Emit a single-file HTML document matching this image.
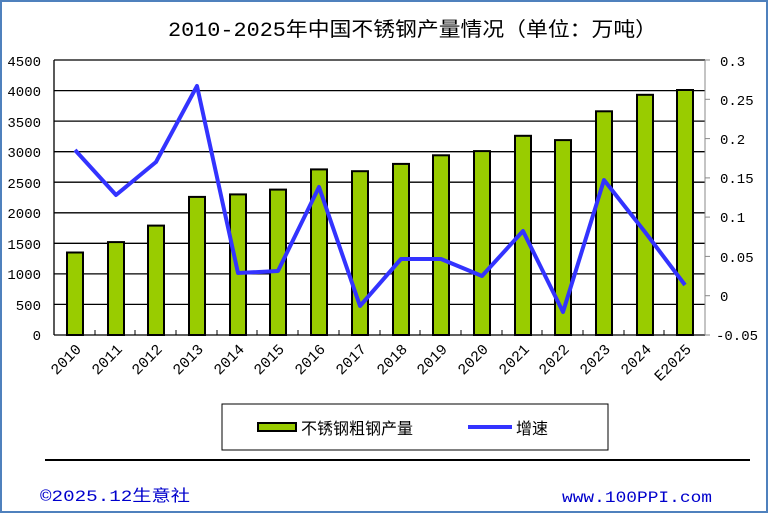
<!DOCTYPE html>
<html><head><meta charset="utf-8"><style>
html,body{margin:0;padding:0;background:#fff;}
svg{display:block;}
text{font-family:"Liberation Mono","Noto Sans CJK SC",monospace;}
</style></head><body>
<svg width="770" height="523" viewBox="0 0 770 523" xmlns="http://www.w3.org/2000/svg">
<rect x="1" y="1" width="766" height="511" fill="#fff" stroke="#4f81bd" stroke-width="2"/>
<text x="168" y="36" font-size="20" textLength="489" lengthAdjust="spacingAndGlyphs" font-family="Liberation Mono, Noto Serif CJK SC, serif">2010-2025年中国不锈钢产量情况（单位：万吨）</text>
<g stroke="#000" stroke-width="1.3">
<line x1="54" y1="60" x2="705" y2="60"/><line x1="54" y1="90.6" x2="705" y2="90.6"/><line x1="54" y1="121.1" x2="705" y2="121.1"/><line x1="54" y1="151.7" x2="705" y2="151.7"/><line x1="54" y1="182.2" x2="705" y2="182.2"/><line x1="54" y1="212.8" x2="705" y2="212.8"/><line x1="54" y1="243.3" x2="705" y2="243.3"/><line x1="54" y1="273.9" x2="705" y2="273.9"/><line x1="54" y1="304.4" x2="705" y2="304.4"/>
<line x1="54" y1="60" x2="54" y2="335"/><line x1="54" y1="335" x2="705" y2="335"/>
</g>
<line x1="705" y1="60" x2="705" y2="335" stroke="#888" stroke-width="1"/>
<g stroke="#888" stroke-width="1">
<line x1="705" y1="60" x2="710" y2="60"/><line x1="705" y1="99.3" x2="710" y2="99.3"/><line x1="705" y1="138.6" x2="710" y2="138.6"/><line x1="705" y1="177.9" x2="710" y2="177.9"/><line x1="705" y1="217.1" x2="710" y2="217.1"/><line x1="705" y1="256.4" x2="710" y2="256.4"/><line x1="705" y1="295.7" x2="710" y2="295.7"/><line x1="705" y1="335" x2="710" y2="335"/>
</g>
<g stroke="#000" stroke-width="1">
<line x1="95" y1="335" x2="95" y2="330"/><line x1="135" y1="335" x2="135" y2="330"/><line x1="176" y1="335" x2="176" y2="330"/><line x1="217" y1="335" x2="217" y2="330"/><line x1="257" y1="335" x2="257" y2="330"/><line x1="298" y1="335" x2="298" y2="330"/><line x1="339" y1="335" x2="339" y2="330"/><line x1="380" y1="335" x2="380" y2="330"/><line x1="420" y1="335" x2="420" y2="330"/><line x1="461" y1="335" x2="461" y2="330"/><line x1="502" y1="335" x2="502" y2="330"/><line x1="542" y1="335" x2="542" y2="330"/><line x1="583" y1="335" x2="583" y2="330"/><line x1="624" y1="335" x2="624" y2="330"/><line x1="664" y1="335" x2="664" y2="330"/>
</g>
<g font-size="14" text-anchor="end">
<text x="41" y="66">4500</text><text x="41" y="96">4000</text><text x="41" y="127">3500</text><text x="41" y="157">3000</text><text x="41" y="188">2500</text><text x="41" y="218">2000</text><text x="41" y="249">1500</text><text x="41" y="279">1000</text><text x="41" y="310">500</text><text x="41" y="340">0</text>
</g>
<g font-size="14">
<text x="720" y="66">0.3</text><text x="720" y="105">0.25</text><text x="720" y="144">0.2</text><text x="720" y="183">0.15</text><text x="720" y="222">0.1</text><text x="720" y="262">0.05</text><text x="720" y="301">0</text><text x="716" y="340">-0.05</text>
</g>
<g fill="#99cc00" stroke="#000" stroke-width="2">
<rect x="67" y="252.5" width="16" height="82.5"/>
<rect x="108" y="242.1" width="16" height="92.9"/>
<rect x="148" y="225.6" width="16" height="109.4"/>
<rect x="189" y="196.9" width="16" height="138.1"/>
<rect x="230" y="194.4" width="16" height="140.6"/>
<rect x="270" y="189.6" width="16" height="145.4"/>
<rect x="311" y="169.4" width="16" height="165.6"/>
<rect x="352" y="171.2" width="16" height="163.8"/>
<rect x="393" y="163.9" width="16" height="171.1"/>
<rect x="433" y="155.3" width="16" height="179.7"/>
<rect x="474" y="151.1" width="16" height="183.9"/>
<rect x="515" y="135.8" width="16" height="199.2"/>
<rect x="555" y="140.1" width="16" height="194.9"/>
<rect x="596" y="111.3" width="16" height="223.7"/>
<rect x="637" y="94.8" width="16" height="240.2"/>
<rect x="677" y="90" width="16" height="245"/>
</g>
<polyline fill="none" stroke="#3333ff" stroke-width="4" stroke-linejoin="round" points="75,150 116,195 156,162 197,86 238,273 278,271 319,187 360,306 401,259 441,259 482,276 523,231 563,312 604,180 645,232 685,285"/>
<g font-size="15">
<text transform="translate(82,350) rotate(-45)" text-anchor="end">2010</text>
<text transform="translate(123,350) rotate(-45)" text-anchor="end">2011</text>
<text transform="translate(163,350) rotate(-45)" text-anchor="end">2012</text>
<text transform="translate(204,350) rotate(-45)" text-anchor="end">2013</text>
<text transform="translate(245,350) rotate(-45)" text-anchor="end">2014</text>
<text transform="translate(285,350) rotate(-45)" text-anchor="end">2015</text>
<text transform="translate(326,350) rotate(-45)" text-anchor="end">2016</text>
<text transform="translate(367,350) rotate(-45)" text-anchor="end">2017</text>
<text transform="translate(408,350) rotate(-45)" text-anchor="end">2018</text>
<text transform="translate(448,350) rotate(-45)" text-anchor="end">2019</text>
<text transform="translate(489,350) rotate(-45)" text-anchor="end">2020</text>
<text transform="translate(530,350) rotate(-45)" text-anchor="end">2021</text>
<text transform="translate(570,350) rotate(-45)" text-anchor="end">2022</text>
<text transform="translate(611,350) rotate(-45)" text-anchor="end">2023</text>
<text transform="translate(652,350) rotate(-45)" text-anchor="end">2024</text>
<text transform="translate(692,350) rotate(-45)" text-anchor="end">E2025</text>
</g>
<rect x="222" y="404" width="386" height="46" fill="#fff" stroke="#000" stroke-width="1"/>
<rect x="258" y="423" width="38" height="8" fill="#99cc00" stroke="#000" stroke-width="2"/>
<text x="301" y="434" font-size="16" font-family="Liberation Sans, Noto Sans CJK SC, sans-serif">不锈钢粗钢产量</text>
<line x1="468" y1="427" x2="512" y2="427" stroke="#3333ff" stroke-width="4"/>
<text x="516" y="434" font-size="16" font-family="Liberation Sans, Noto Sans CJK SC, sans-serif">增速</text>
<line x1="45" y1="460" x2="750" y2="460" stroke="#000" stroke-width="2"/>
<text x="40" y="501" font-size="16" fill="#0000cc" textLength="150" lengthAdjust="spacingAndGlyphs">©2025.12生意社</text>
<text x="562" y="502" font-size="16" fill="#0000cc" textLength="150" lengthAdjust="spacingAndGlyphs">www.100PPI.com</text>
</svg>
</body></html>
